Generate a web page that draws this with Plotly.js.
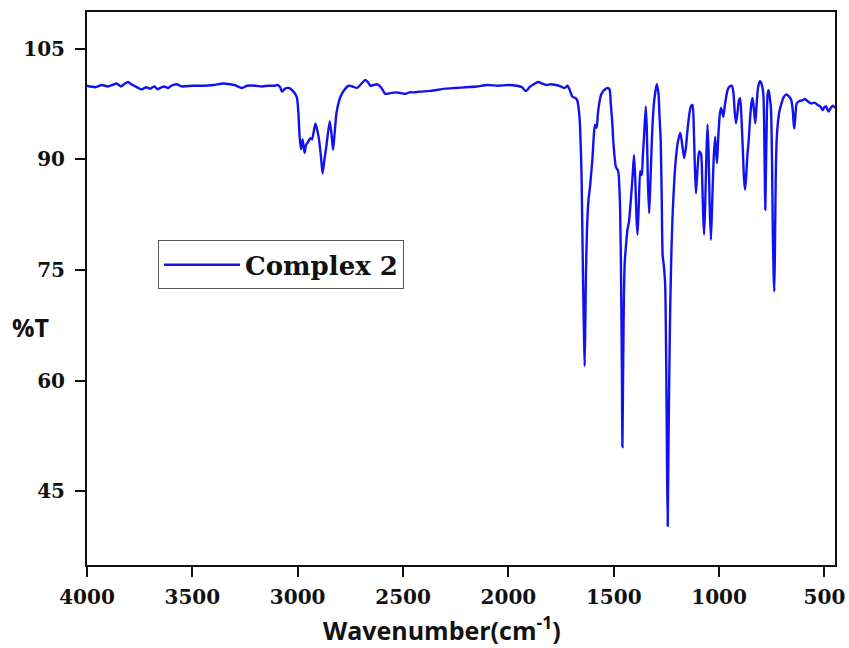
<!DOCTYPE html>
<html>
<head>
<meta charset="utf-8">
<script src="https://cdn.plot.ly/plotly-3.0.1.min.js"></script>
<style>html,body{margin:0;padding:0;background:#fff;}#chart{width:849px;height:648px;}</style>
</head>
<body>
<div id="chart"></div>
<script>
const seriesName = "Complex 2";
const wavenumber = [
4000,3960,3930,3900,3880,3859,3840,3820,3805,3790,3770,3740,3720,3700,3680,3665,3653,3635,3615,3600,
3574,3550,3500,3450,3400,3353,3320,3300,3265,3240,3200,3170,3140,3110,3098,3083,3075,3060,3043,3030,
3020,3010,3003,2996,2991,2984,2977,2972,2967,2960,2950,2940,2932,2916,2901,2890,2882,2873,2864,2848,
2838,2832,2825,2816,2805,2797,2780,2758,2740,2718,2700,2679,2665,2655,2640,2623,2605,2584,2560,2536,
2510,2489,2470,2449,2420,2370,2300,2250,2200,2150,2100,2050,2000,1960,1935,1920,1912,1900,1880,1860,
1840,1820,1799,1775,1752,1736,1728,1720,1710,1696,1680,1673,1665,1660,1653,1646,1641,1638,1635,1632,
1627,1620,1612,1606,1601,1594,1589,1581,1576,1570,1560,1546,1530,1520,1514,1507,1502,1490,1479,1470,
1465,1461,1459,1456,1452,1448,1440,1435,1428,1424,1415,1410,1404,1398,1392,1387,1381,1375,1371,1367,
1362,1356,1348,1343,1338,1332,1326,1320,1316,1308,1296,1288,1283,1277,1272,1268,1262,1256,1251,1247,
1244,1240,1236,1232,1226,1220,1213,1205,1195,1184,1175,1166,1158,1150,1142,1134,1126,1120,1115,1110,
1104,1098,1094,1086,1080,1075,1071,1066,1060,1055,1050,1045,1039,1033,1026,1019,1014,1010,1004,997,
991,985,980,972,960,950,939,932,926,920,912,906,900,893,887,882,877,872,866,860,
852,846,841,834,828,822,815,806,798,790,786,783,781,778,774,770,765,760,754,749,
745,741,738,735,731,727,722,714,706,695,682,670,658,650,646,643,639,632,620,605,
593,580,564,548,532,520,508,500,492,486,480,470,461,450
];
const transmittance = [
100.0,99.8,100.1,99.9,100.1,100.3,99.9,100.3,100.5,100.2,99.9,99.5,99.8,99.6,99.9,99.5,99.7,99.9,99.7,100.0,
100.2,99.9,100.0,100.0,100.1,100.3,100.2,100.1,99.7,100.0,100.0,99.9,100.0,100.0,100.1,99.8,99.2,99.6,99.7,99.5,
99.2,98.8,98.3,96.0,93.1,91.4,92.7,91.8,90.9,92.0,92.4,92.9,92.7,94.9,93.1,90.5,88.1,90.0,91.8,95.2,
93.0,91.3,93.5,96.3,97.8,98.5,99.4,100.0,99.9,99.7,100.2,100.8,100.4,100.0,100.1,100.2,99.8,98.9,99.0,99.1,
99.0,98.9,99.1,99.1,99.2,99.3,99.6,99.7,99.8,99.9,100.1,100.0,100.1,100.0,99.8,99.3,99.4,99.8,100.2,100.5,
100.3,100.1,100.2,100.1,99.9,99.7,99.8,100.0,99.5,98.5,98.3,98.0,96.5,94.5,88.0,74.0,66.0,62.0,68.0,74.5,
80.5,84.5,86.5,88.5,90.2,93.5,94.7,94.3,96.0,97.4,98.8,99.4,99.7,99.5,97.5,95.0,92.4,89.0,88.4,83.4,
73.0,60.0,51.0,60.0,71.0,76.0,79.0,80.5,81.5,82.7,86.0,88.0,90.6,87.5,82.0,79.8,84.0,88.4,88.0,87.9,
90.5,93.3,97.2,94.0,87.0,82.7,87.0,92.0,94.7,98.0,100.2,99.0,96.0,92.4,84.0,77.0,75.5,73.0,62.0,48.0,
40.3,52.0,62.0,70.0,78.0,83.0,87.0,90.2,92.5,93.6,92.0,90.2,91.5,94.0,96.0,97.2,97.4,94.0,89.0,85.4,
88.0,90.5,91.1,90.8,87.0,82.0,79.8,84.0,91.0,94.7,91.0,84.0,79.1,84.0,90.0,93.1,91.0,89.5,93.0,96.0,
97.0,96.5,95.8,97.5,99.4,99.9,100.0,99.0,96.5,94.9,96.5,98.0,98.3,95.0,91.0,87.5,85.9,87.5,90.5,92.4,
96.0,97.8,98.3,96.5,94.9,97.5,99.8,100.6,100.2,98.8,94.0,87.0,83.2,88.0,95.0,98.8,99.4,98.5,97.0,90.0,
80.0,74.0,72.1,78.0,88.0,92.5,94.7,96.5,97.4,98.4,98.8,98.6,98.1,96.5,94.8,94.2,95.5,97.6,97.9,98.0,
98.2,97.9,97.6,97.7,97.4,97.2,96.7,97.1,97.2,96.8,96.5,97.0,97.3,97.0
];
const xTicks = [4000,3500,3000,2500,2000,1500,1000,500];
const yTicks = [45,60,75,90,105];
const xTitle = "Wavenumber(cm<sup>-1</sup>)";
const yTitle = "%T";

const tickFont = {family: "DejaVu Serif", size: 20, color: "#111", weight: "bold"};
const titleFont = {family: "Open Sans", size: 25, color: "#111", weight: "bold"};
const trace = {
  x: wavenumber, y: transmittance, type: "scatter", mode: "lines", name: seriesName,
  line: {color: "#1212f0", width: 2.4, shape: "spline", smoothing: 0.6}
};
const layout = {
  width: 849, height: 648,
  margin: {l: 87, r: 14, t: 12, b: 83},
  paper_bgcolor: "#fff", plot_bgcolor: "#fff",
  showlegend: true,
  legend: {x: 0.095, y: 0.587, xanchor: "left", yanchor: "top",
    bgcolor: "#fff", bordercolor: "#555", borderwidth: 1, itemwidth: 76,
    font: {family: "DejaVu Serif", size: 26, color: "#111", weight: "bold"}},
  xaxis: {range: [4000, 450], tickvals: xTicks, ticktext: xTicks.map(String),
    showgrid: false, zeroline: false, showline: true, linecolor: "#111", linewidth: 2, mirror: true,
    ticks: "outside", ticklen: 10, tickwidth: 2, tickcolor: "#111", tickfont: tickFont,
    ticklabelstandoff: 3},
  yaxis: {range: [35, 110], tickvals: yTicks, ticktext: yTicks.map(String),
    showgrid: false, zeroline: false, showline: true, linecolor: "#111", linewidth: 2, mirror: true,
    ticks: "outside", ticklen: 10, tickwidth: 2, tickcolor: "#111", tickfont: tickFont,
    ticklabelstandoff: 6},
  annotations: [
    {text: yTitle, xref: "paper", yref: "paper", x: -0.076, y: 0.43,
     showarrow: false, xanchor: "center", yanchor: "middle", font: titleFont},
    {text: xTitle, xref: "paper", yref: "paper", x: 0.4746, y: -0.114,
     showarrow: false, xanchor: "center", yanchor: "middle", font: titleFont}
  ]
};
Plotly.newPlot("chart", [trace], layout, {displayModeBar: false, staticPlot: true});
</script>
</body>
</html>
